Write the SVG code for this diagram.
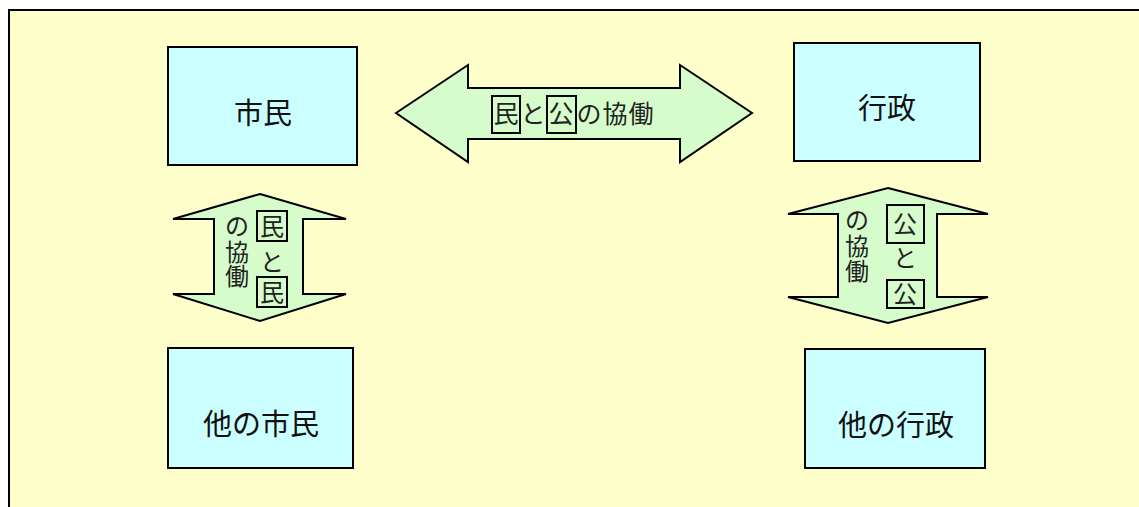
<svg xmlns="http://www.w3.org/2000/svg" width="1139" height="507" viewBox="0 0 1139 507">
<style>
.box{fill:#CCFFFF;stroke:#000;stroke-width:2}
.arrow{fill:#D6FCCC;stroke:#000;stroke-width:2;stroke-linejoin:miter}
.lbl{font-family:"Noto Sans CJK JP","Noto Sans",sans-serif;font-size:29px;fill:#111;text-anchor:middle}
.at{font-family:"Noto Sans CJK JP","Noto Sans",sans-serif;font-size:25px;fill:#222;text-anchor:middle}
.vt{font-family:"Noto Sans CJK JP","Noto Sans",sans-serif;font-size:24px;fill:#222;text-anchor:middle}
.cb{fill:none;stroke:#000;stroke-width:2}
</style>
<rect x="0" y="0" width="1139" height="507" fill="#FFFFFF"/>
<rect id="frame" x="9" y="10" width="1140" height="510" fill="#FFFFCC" stroke="#000" stroke-width="2"/>
<g id="connectors">
  <g id="arrow-top">
    <polygon class="arrow" points="396,113 468,65 468,88 680,88 680,65 752,113 680,162 680,139 468,139 468,162"/>
    <rect class="cb" x="492" y="96" width="28" height="37"/>
    <rect class="cb" x="547" y="96" width="29" height="37"/>
    <text class="at" x="506 533 561 589 615 641" y="123">民と公の協働</text>
  </g>
  <g id="arrow-left">
    <polygon class="arrow" points="260,194 346,219 303,219 303,294 346,294 260,321 173,294 214,294 214,219 173,219"/>
    <rect class="cb" x="257" y="211" width="30" height="30"/>
    <rect class="cb" x="257" y="277" width="30" height="30"/>
    <text class="vt" x="237 237 237" y="235 261 285">の協働</text>
    <text class="vt" x="272 272 272" y="235 271 301">民と民</text>
  </g>
  <g id="arrow-right">
    <polygon class="arrow" points="888,188 988,214 937,214 937,297 988,297 888,323 788,297 838,297 838,214 788,214"/>
    <rect class="cb" x="887" y="205" width="37" height="38"/>
    <rect class="cb" x="887" y="280" width="37" height="28"/>
    <text class="vt" x="857 857 857" y="229 255 280">の協働</text>
    <text class="vt" x="905 905 905" y="233 267 303">公と公</text>
  </g>
</g>
<g id="node-shimin">
  <rect class="box" x="168" y="47" width="189" height="118"/>
  <text class="lbl" x="263" y="124">市民</text>
</g>
<g id="node-gyosei">
  <rect class="box" x="794" y="43" width="186" height="118"/>
  <text class="lbl" x="887" y="119">行政</text>
</g>
<g id="node-other-shimin">
  <rect class="box" x="168" y="348" width="185" height="120"/>
  <text class="lbl" x="261" y="435">他の市民</text>
</g>
<g id="node-other-gyosei">
  <rect class="box" x="805" y="349" width="180" height="119"/>
  <text class="lbl" x="896" y="436">他の行政</text>
</g>
</svg>
